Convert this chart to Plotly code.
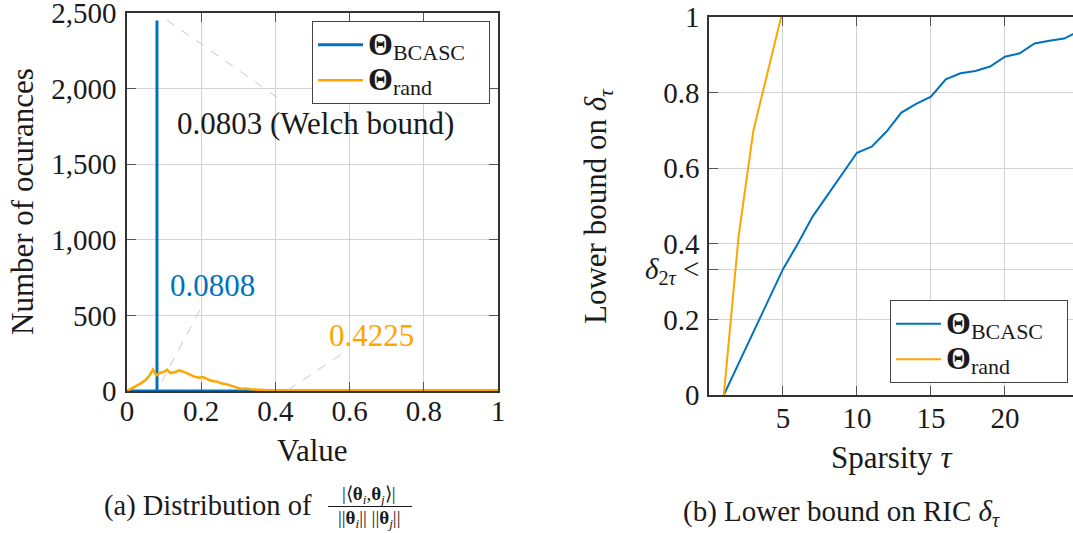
import plotly.graph_objects as go

# ---------------- data ----------------
# (a) histogram of normalised inner products
bcasc_hist_x = [0.0, 0.0808, 0.0808, 0.0808, 1.0]
bcasc_hist_y = [0, 0, 2450, 0, 0]

rand_hist_x = [0.0, 0.009, 0.022, 0.036, 0.049, 0.061, 0.070, 0.079, 0.088, 0.099,
               0.108, 0.117, 0.130, 0.141, 0.153, 0.166, 0.180, 0.193, 0.205, 0.216,
               0.229, 0.243, 0.256, 0.270, 0.283, 0.297, 0.310, 0.319, 0.333, 0.346,
               0.360, 0.377, 0.396, 0.42, 1.0]
rand_hist_y = [0, 11, 31, 49, 71, 104, 142, 104, 119, 126,
               142, 119, 126, 137, 126, 110, 97, 88, 93, 79,
               66, 62, 49, 44, 31, 22, 13, 16, 11, 9,
               6, 4, 2, 0, 0]

# pinned value labels: (text, label x, label y, pin start x, pin start y, pin end x, pin end y)
welch_label = ["0.0803 (Welch bound)", 0.507, 1766, 0.107, 2454, 0.407, 1938]
bcasc_label = ["0.0808", 0.2305, 701, 0.0935, 61, 0.201, 557]
rand_label = ["0.4225", 0.658, 370, 0.434, 7, 0.579, 245]

# (b) lower bound on the RIC
tau = list(range(1, 26))
ric_bcasc = [0, 0.083, 0.167, 0.25, 0.333, 0.40, 0.472, 0.528, 0.585, 0.641,
             0.657, 0.697, 0.747, 0.770, 0.789, 0.835, 0.851, 0.857, 0.869, 0.895,
             0.904, 0.930, 0.937, 0.943, 0.962]
tau_rand = [1, 2, 3, 4, 5]
ric_rand = [0, 0.42, 0.70, 0.86, 1.02]

x1_ticks = [0, 0.2, 0.4, 0.6, 0.8, 1]
y1_ticks = [0, 500, 1000, 1500, 2000, 2500]
x2_ticks = [5, 10, 15, 20]
y2_ticks = [0, 0.2, 1 / 3, 0.4, 0.6, 0.8, 1]
y2_ticktext = ["0", "0.2", "<i>δ</i><sub>2<i>τ</i></sub> &lt;", "0.4", "0.6", "0.8", "1"]

BLUE = "#0072BD"
ORANGE = "#FFA500"
TXT = "#1a1a1a"
GRID = "#d2d2d2"
FONT = "Liberation Serif"
FS_TICK = 29
FS = 31
FS_LEG = 25

W, H = 1073, 533

PAD = "\u00a0\u00a0\u00a0"
NAME_BCASC = ("<b><span style='font-size:32px'>Θ</span></b>"
              "<sub><span style='font-size:22px'>BCASC</span></sub>" + PAD)
NAME_RAND = ("<b><span style='font-size:32px'>Θ</span></b>"
             "<sub><span style='font-size:22px'>rand</span></sub>")

fig = go.Figure()

fig.add_trace(go.Scatter(x=bcasc_hist_x, y=bcasc_hist_y, mode="lines",
                         line=dict(color=BLUE, width=3),
                         name=NAME_BCASC, xaxis="x", yaxis="y", legend="legend"))
fig.add_trace(go.Scatter(x=rand_hist_x, y=rand_hist_y, mode="lines",
                         line=dict(color=ORANGE, width=2.5),
                         name=NAME_RAND, xaxis="x", yaxis="y", legend="legend"))

fig.add_trace(go.Scatter(x=tau, y=ric_bcasc, mode="lines",
                         line=dict(color=BLUE, width=2),
                         name=NAME_BCASC, xaxis="x2", yaxis="y2", legend="legend2"))
fig.add_trace(go.Scatter(x=tau_rand, y=ric_rand, mode="lines",
                         line=dict(color=ORANGE, width=2),
                         name=NAME_RAND, xaxis="x2", yaxis="y2", legend="legend2"))

# pins and labels on the histogram
for lab, col in [(welch_label, TXT), (bcasc_label, BLUE), (rand_label, ORANGE)]:
    text, lx, ly, x0, y0, x1, y1 = lab
    fig.add_shape(type="line", xref="x", yref="y", x0=x0, y0=y0, x1=x1, y1=y1,
                  line=dict(color="#c8c8c8", width=1, dash="dash"))
    fig.add_annotation(x=lx, y=ly, xref="x", yref="y", text=text, showarrow=False,
                       xanchor="center", yanchor="middle",
                       font=dict(family=FONT, size=FS, color=col))

axis_common = dict(showgrid=True, gridcolor=GRID, gridwidth=1, zeroline=False,
                   showline=True, linecolor="#333333", linewidth=1.5,
                   ticks="inside", ticklen=9, tickcolor="#555555", tickwidth=1,
                   automargin=False, ticklabeloverflow="allow",
                   tickfont=dict(family=FONT, size=FS_TICK, color=TXT))

legend_common = dict(bgcolor="white", bordercolor="#444444", borderwidth=1,
                     font=dict(family=FONT, size=FS_LEG, color=TXT),
                     tracegroupgap=0, itemwidth=45)

fig.update_layout(
    width=W, height=H,
    margin=dict(l=0, r=0, t=0, b=0, autoexpand=False),
    paper_bgcolor="white", plot_bgcolor="white",
    font=dict(family=FONT, size=FS, color=TXT),
    xaxis=dict(domain=[127 / W, 498 / W], range=[0, 1], tickvals=x1_ticks,
               mirror="allticks", anchor="y", ticklabelstandoff=-7, **axis_common),
    yaxis=dict(domain=[1 - 391 / H, 1 - 13 / H], range=[0, 2500], tickvals=y1_ticks,
               tickformat=",", mirror="allticks", anchor="x", ticklabelstandoff=3,
               **axis_common),
    xaxis2=dict(domain=[709 / W, 1.0], range=[0, 24.6], tickvals=x2_ticks,
                mirror="allticks", anchor="y2", ticklabelstandoff=-4, **axis_common),
    yaxis2=dict(domain=[1 - 395 / H, 1 - 17 / H], range=[0, 1], tickvals=y2_ticks,
                ticktext=y2_ticktext, mirror=False, anchor="x2", ticklabelstandoff=2,
                **axis_common),
    legend=dict(x=490 / W, y=1 - 21 / H, xanchor="right", yanchor="top", **legend_common),
    legend2=dict(x=1068 / W, y=1 - 383 / H, xanchor="right", yanchor="bottom",
                 **legend_common),
    showlegend=True,
)


def paper_text(text, px, py, size, angle=0):
    fig.add_annotation(x=px / W, y=1 - py / H, xref="paper", yref="paper",
                       xanchor="center", yanchor="middle",
                       text=text, showarrow=False, textangle=angle,
                       font=dict(family=FONT, size=size, color=TXT))


# axis titles
paper_text("Value", 312, 450, FS)
paper_text("Number of ocurances", 22, 202, FS, -90)
paper_text("Sparsity <i>τ</i>", 892, 457, FS)
paper_text("Lower bound on <i>δ</i><sub><i>τ</i></sub>", 598, 206, FS, -90)

# captions under each panel
paper_text("(a) Distribution of", 208, 506, 28.5)
paper_text("|⟨<b>θ</b><sub><i>i</i></sub>,<b>θ</b><sub><i>j</i></sub>⟩|", 369, 495, 19)
fig.add_shape(type="line", xref="paper", yref="paper",
              x0=328 / W, x1=412 / W, y0=1 - 506.5 / H, y1=1 - 506.5 / H,
              line=dict(color=TXT, width=1))
paper_text("||<b>θ</b><sub><i>i</i></sub>|| ||<b>θ</b><sub><i>j</i></sub>||", 369, 519, 19)
paper_text("(b) Lower bound on RIC <i>δ</i><sub><i>τ</i></sub>", 841, 513, 29)

fig.write_html("out.html")
